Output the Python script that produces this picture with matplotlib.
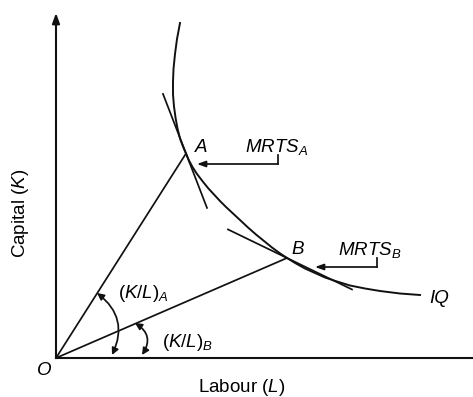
import matplotlib.pyplot as plt
from matplotlib.patches import FancyArrowPatch

plt.rcParams['font.family'] = ['Liberation Sans', 'DejaVu Sans']
plt.rcParams['mathtext.fontset'] = 'custom'
plt.rcParams['mathtext.rm'] = 'Liberation Sans'
plt.rcParams['mathtext.it'] = 'Liberation Sans:italic'

# isoquant IQ (labour, capital)
iq_L = [124, 121, 119, 117.5, 117, 117, 118, 119.5, 121.5, 124, 127, 130,
        133, 136.5, 141, 146, 152, 158, 164, 170, 177, 184, 192, 200, 208,
        216, 223.5, 231, 240, 249, 259, 269, 281, 294, 309, 324, 344, 364]
iq_K = [335, 319, 304, 289, 276, 263.5, 251.5, 240.5, 229.5, 219.5, 211.5, 204.5,
        197.5, 191, 184, 177.5, 170, 163.5, 157, 151, 144.5, 138, 130.5, 123.5, 117,
        110.5, 105, 100, 94.5, 89.5, 85, 80.5, 76.5, 72.5, 69.5, 67, 64.5, 63]

point_A = (130, 204.5)
point_B = (231, 100)
slope_A = -2.59
slope_B = -0.484
tangent_A_L = [107, 151]
tangent_B_L = [172, 296]

# elbow arrows for the MRTS labels: corner start, corner, tip
mrts_A_path = [(222, 203), (222, 194), (141, 194)]
mrts_B_path = [(321, 100), (321, 91), (259, 91)]

# curved angle arrows (start on ray, end on L axis)
arc_A = [(41, 65), (56, 3)]
arc_B = [(79, 35), (86, 3)]

fig = plt.figure(figsize=(4.73, 3.97), dpi=100)
ax = fig.add_axes([0, 0, 1, 1])
ax.set_xlim(-56, 417)
ax.set_ylim(-39, 358)
ax.axis('off')

lw = 1.25
col = '#111111'

# axes
ax.plot([0, 417], [0, 0], color=col, lw=1.5)
ax.annotate('', xy=(0, 345), xytext=(0, 0),
            arrowprops=dict(arrowstyle='-|>,head_length=0.6,head_width=0.22',
                            color=col, lw=1.5, shrinkA=0, shrinkB=0))

# isoquant
ax.plot(iq_L, iq_K, color=col, lw=1.4)

# rays from origin
ax.plot([0, point_A[0]], [0, point_A[1]], color=col, lw=lw)
ax.plot([0, point_B[0]], [0, point_B[1]], color=col, lw=lw)

# tangents
ax.plot(tangent_A_L, [point_A[1] + slope_A * (l - point_A[0]) for l in tangent_A_L],
        color=col, lw=lw)
ax.plot(tangent_B_L, [point_B[1] + slope_B * (l - point_B[0]) for l in tangent_B_L],
        color=col, lw=lw)

# MRTS arrows
for path in [mrts_A_path, mrts_B_path]:
    ax.plot([path[0][0], path[1][0]], [path[0][1], path[1][1]], color=col, lw=lw)
    ax.annotate('', xy=path[2], xytext=path[1],
                arrowprops=dict(arrowstyle='-|>,head_length=0.5,head_width=0.18',
                                color=col, lw=lw, shrinkA=0, shrinkB=0))

# angle arcs
for arc, rad in [(arc_A, -0.4), (arc_B, -0.5)]:
    ax.add_patch(FancyArrowPatch(arc[0], arc[1], connectionstyle=f'arc3,rad={rad}',
                                 arrowstyle='<|-|>,head_length=4,head_width=2',
                                 color=col, lw=lw, shrinkA=0, shrinkB=0))

fs = 13.5
ax.text(139, 206, 'A', fontsize=fs, style='italic')
ax.text(189, 206, r'$MRTS_A$', fontsize=fs)
ax.text(235, 104, 'B', fontsize=fs, style='italic')
ax.text(282, 103, r'$MRTS_B$', fontsize=fs)
ax.text(373, 55, 'IQ', fontsize=fs, style='italic')
ax.text(62, 60, r'$(K/L)_A$', fontsize=fs)
ax.text(106, 11, r'$(K/L)_B$', fontsize=fs)
ax.text(-19, -17, 'O', fontsize=fs, style='italic')
ax.text(186, -34, r'Labour ($L$)', fontsize=fs, ha='center', va='baseline')
ax.text(-36, 145, r'Capital ($K$)', fontsize=fs, ha='center', va='center',
        rotation=90)

fig.savefig('out.png', dpi=100)
